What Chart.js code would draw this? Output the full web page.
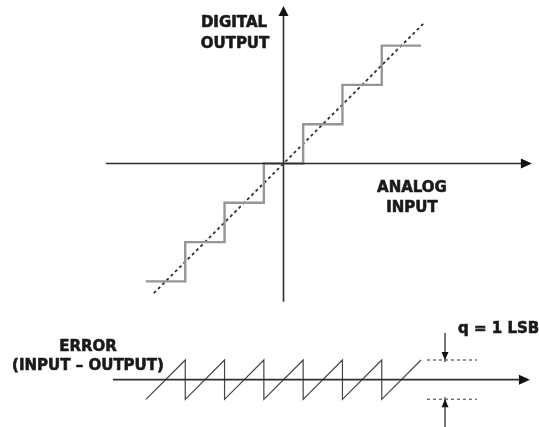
<!DOCTYPE html>
<html>
<head>
<meta charset="utf-8">
<script src="https://cdn.jsdelivr.net/npm/chart.js@4.4.0/dist/chart.umd.min.js"></script>
<style>
  html, body { margin: 0; padding: 0; background: #fff; }
  #wrap { width: 539px; height: 427px; }
</style>
</head>
<body>
<div id="wrap"><canvas id="c" width="539" height="427"></canvas></div>
<script>
// Ideal quantizer, everything in units of 1 LSB.
// Code transitions and the output level held between them.
const stepEdges  = [-3.5, -2.5, -1.5, -0.5, 0.5, 1.5, 2.5, 3.5];
const stepLevels = [-3, -2, -1, 0, 1, 2, 3];

// Ideal (unquantized) transfer line, output = input.
const idealX = [-3.3, 3.6];
const idealY = [-3.3, 3.6];

// Quantization error (input - output) along the same input range.
const errorX = [-3.5, -2.5, -2.5, -1.5, -1.5, -0.5, -0.5, 0.5, 0.5, 1.5, 1.5, 2.5, 2.5, 3.5];
const errorY = [-0.5, 0.5, -0.5, 0.5, -0.5, 0.5, -0.5, 0.5, -0.5, 0.5, -0.5, 0.5, -0.5, 0.5];

// q = 1 LSB bracket around the error trace.
const lsb = 1;

// Where the error plot sits below the transfer function.
const errorBaseline = -5.5;

// Axis extents (arrow tips at the far end).
const inputAxis  = [-4.52, 6.32];
const outputAxis = [-3.52, 4.01];
const errorAxis  = [-4.34, 6.27];

// ---- build point lists from the arrays above ----
const stairPts = [];
stepLevels.forEach((lv, i) => {
  stairPts.push({ x: stepEdges[i], y: lv });
  stairPts.push({ x: stepEdges[i + 1], y: lv });
});
const idealPts = idealX.map((x, i) => ({ x, y: idealY[i] }));
const errorPts = errorX.map((x, i) => ({ x, y: errorBaseline + errorY[i] }));

const qTop = errorBaseline + lsb / 2;
const qBottom = errorBaseline - lsb / 2;
const qX = [3.65, 4.92];
const qArrowX = 4.11;

const ink = '#2e2e2e';

function seg(points, color, width, dash) {
  return {
    data: points,
    showLine: true,
    borderColor: color,
    borderWidth: width,
    borderDash: dash || [],
    pointRadius: 0,
    fill: false,
    tension: 0
  };
}

const datasets = [
  seg([{ x: inputAxis[0], y: 0 }, { x: inputAxis[1] - 0.1, y: 0 }], ink, 1.6),
  seg([{ x: 0, y: outputAxis[0] }, { x: 0, y: outputAxis[1] - 0.1 }], ink, 1.6),
  seg(stairPts, '#959595', 2.4),
  seg(idealPts, '#2f2f2f', 1.8, [3, 3]),
  seg([{ x: errorAxis[0], y: errorBaseline }, { x: errorAxis[1] - 0.1, y: errorBaseline }], ink, 1.6),
  seg(errorPts, '#444444', 1.2),
  seg([{ x: qX[0], y: qTop }, { x: qX[1], y: qTop }], '#707070', 1.5, [3, 3]),
  seg([{ x: qX[0], y: qBottom }, { x: qX[1], y: qBottom }], '#707070', 1.5, [3, 3]),
  seg([{ x: qArrowX, y: -4.31 }, { x: qArrowX, y: qTop - 0.05 }], ink, 1.3),
  seg([{ x: qArrowX, y: -6.9 }, { x: qArrowX, y: qBottom + 0.05 }], ink, 1.3)
];

// Filled arrowheads at the axis tips and on the q bracket.
function arrowHead(ctx, x, y, dir, len, half) {
  const dx = Math.cos(dir), dy = Math.sin(dir);
  ctx.beginPath();
  ctx.moveTo(x, y);
  ctx.lineTo(x - dx * len - dy * half, y - dy * len + dx * half);
  ctx.lineTo(x - dx * len + dy * half, y - dy * len - dx * half);
  ctx.closePath();
  ctx.fill();
}

const annotations = {
  id: 'annotations',
  afterDatasetsDraw(chart) {
    const { ctx, scales: { x, y } } = chart;
    ctx.save();
    ctx.fillStyle = '#111';
    arrowHead(ctx, x.getPixelForValue(inputAxis[1]), y.getPixelForValue(0), 0, 11, 5);
    arrowHead(ctx, x.getPixelForValue(0), y.getPixelForValue(outputAxis[1]), -Math.PI / 2, 10, 5);
    arrowHead(ctx, x.getPixelForValue(errorAxis[1]), y.getPixelForValue(errorBaseline), 0, 11, 5);
    arrowHead(ctx, x.getPixelForValue(qArrowX), y.getPixelForValue(qTop), Math.PI / 2, 8, 3.5);
    arrowHead(ctx, x.getPixelForValue(qArrowX), y.getPixelForValue(qBottom), -Math.PI / 2, 8, 3.5);

    ctx.fillStyle = '#1a1a1a';
    ctx.strokeStyle = '#1a1a1a';
    ctx.lineWidth = 0.6;
    ctx.font = 'bold 15px "DejaVu Sans"';
    ctx.textBaseline = 'alphabetic';
    const label = (t, px, py, align) => {
      ctx.textAlign = align;
      ctx.fillText(t, px, py);
      ctx.strokeText(t, px, py);
    };
    label('DIGITAL', 234, 27, 'center');
    label('OUTPUT', 235, 48, 'center');
    label('ANALOG', 412, 192, 'center');
    label('INPUT', 412, 212, 'center');
    label('ERROR', 88, 351, 'center');
    label('(INPUT – OUTPUT)', 88, 370, 'center');
    label('q = 1 LSB', 458, 333, 'left');
    ctx.restore();
  }
};

new Chart(document.getElementById('c'), {
  type: 'scatter',
  data: { datasets },
  options: {
    responsive: false,
    animation: false,
    devicePixelRatio: 1,
    layout: { padding: 0 },
    plugins: { legend: { display: false }, tooltip: { enabled: false } },
    scales: {
      x: { type: 'linear', min: -283.5 / 39.3, max: (539 - 283.5) / 39.3, display: false },
      y: { type: 'linear', min: -(427 - 163.5) / 39.3, max: 163.5 / 39.3, display: false }
    }
  },
  plugins: [annotations]
});
</script>
</body>
</html>
